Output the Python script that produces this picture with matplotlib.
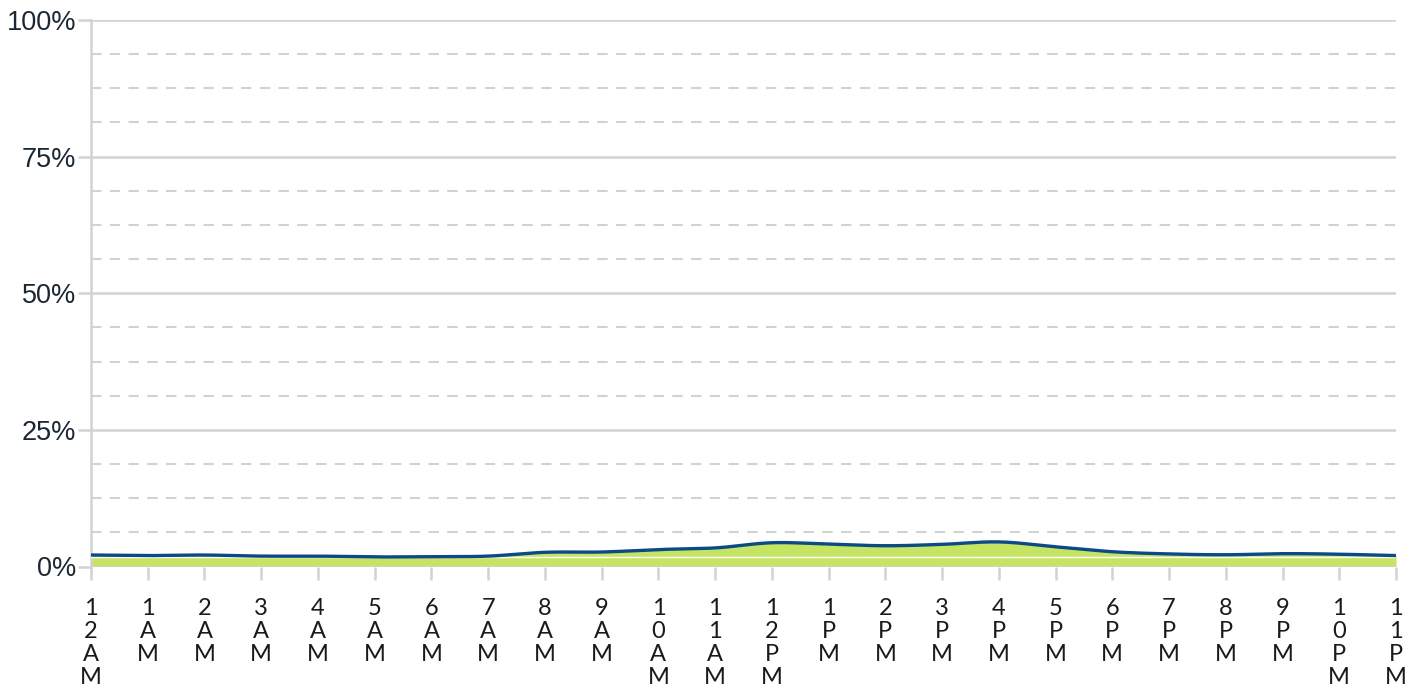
import matplotlib
matplotlib.use("Agg")
import matplotlib.pyplot as plt
import numpy as np
from matplotlib.ticker import FuncFormatter

hours = ['12 AM', '1 AM', '2 AM', '3 AM', '4 AM', '5 AM', '6 AM', '7 AM', '8 AM', '9 AM',
         '10 AM', '11 AM', '12 PM', '1 PM', '2 PM', '3 PM', '4 PM', '5 PM', '6 PM', '7 PM',
         '8 PM', '9 PM', '10 PM', '11 PM']
share = [2.1, 2.0, 2.1, 1.9, 1.9, 1.75, 1.8, 1.9, 2.6, 2.65, 3.1, 3.4,
         4.35, 4.1, 3.8, 4.05, 4.5, 3.6, 2.7, 2.3, 2.15, 2.35, 2.25, 2.0]
base = [1.8] * 24
y_ticks = [0, 25, 50, 75, 100]


# catmull-rom smoothing of the drawn line, only for looks
def smooth(x, y, n=20):
    x = np.asarray(x, float)
    y = np.asarray(y, float)
    px = np.concatenate([[2 * x[0] - x[1]], x, [2 * x[-1] - x[-2]]])
    py = np.concatenate([[2 * y[0] - y[1]], y, [2 * y[-1] - y[-2]]])
    xs, ys = [], []
    t = np.linspace(0, 1, n, endpoint=False)
    for i in range(1, len(px) - 2):
        for p, out in ((px, xs), (py, ys)):
            p0, p1, p2, p3 = p[i - 1], p[i], p[i + 1], p[i + 2]
            out.append(0.5 * (2 * p1 + (-p0 + p2) * t + (2 * p0 - 5 * p1 + 4 * p2 - p3) * t ** 2
                              + (-p0 + 3 * p1 - 3 * p2 + p3) * t ** 3))
    xs.append([x[-1]])
    ys.append([y[-1]])
    return np.concatenate(xs), np.concatenate(ys)


x = np.arange(len(hours))
sx, sy = smooth(x, share)

fig = plt.figure(figsize=(14.13, 6.93), dpi=100)
ax = fig.add_axes([91 / 1413, (693 - 566.5) / 693, (1396 - 91) / 1413, (566.5 - 20) / 693])

ax.fill_between(sx, 0, sy, color='#c5e463', lw=0, zorder=2)
ax.plot(x, base, color='white', lw=1, zorder=3)
ax.plot(sx, sy, color='#0b4a86', lw=2.4, zorder=4, solid_capstyle='butt')

ax.set_xlim(0, 23)
ax.set_ylim(0, 100)

grid_c = '#d2d2d2'
for v in np.arange(6.25, 100, 6.25):
    if v % 25:
        ax.axhline(v, color=grid_c, lw=1.5, ls=(0, (5, 4)), zorder=1)
for v in y_ticks:
    ax.axhline(v, color=grid_c, lw=1.8, zorder=1 if v else 5)

ax.set_yticks(y_ticks)
ax.yaxis.set_major_formatter(FuncFormatter(lambda v, p: f'{v:.0f}%'))
ax.set_xticks(x)
ax.set_xticklabels(['\n'.join(h.replace(' ', '')) for h in hours],
                   fontfamily='Lato', fontsize=17, color='#1a1a1a',
                   va='top', linespacing=1.1)
for lbl in ax.get_yticklabels():
    lbl.set_fontfamily('Liberation Sans')
    lbl.set_fontsize(19.5)
    lbl.set_color('#1b2733')

ax.tick_params(axis='x', length=9, width=1.8, color=grid_c, pad=14)
ax.tick_params(axis='y', length=9.5, width=1.8, color=grid_c, pad=1)

for s in ['top', 'right', 'bottom']:
    ax.spines[s].set_visible(False)
ax.spines['left'].set_color(grid_c)
ax.spines['left'].set_linewidth(1.8)

fig.savefig('out.png', dpi=100)
